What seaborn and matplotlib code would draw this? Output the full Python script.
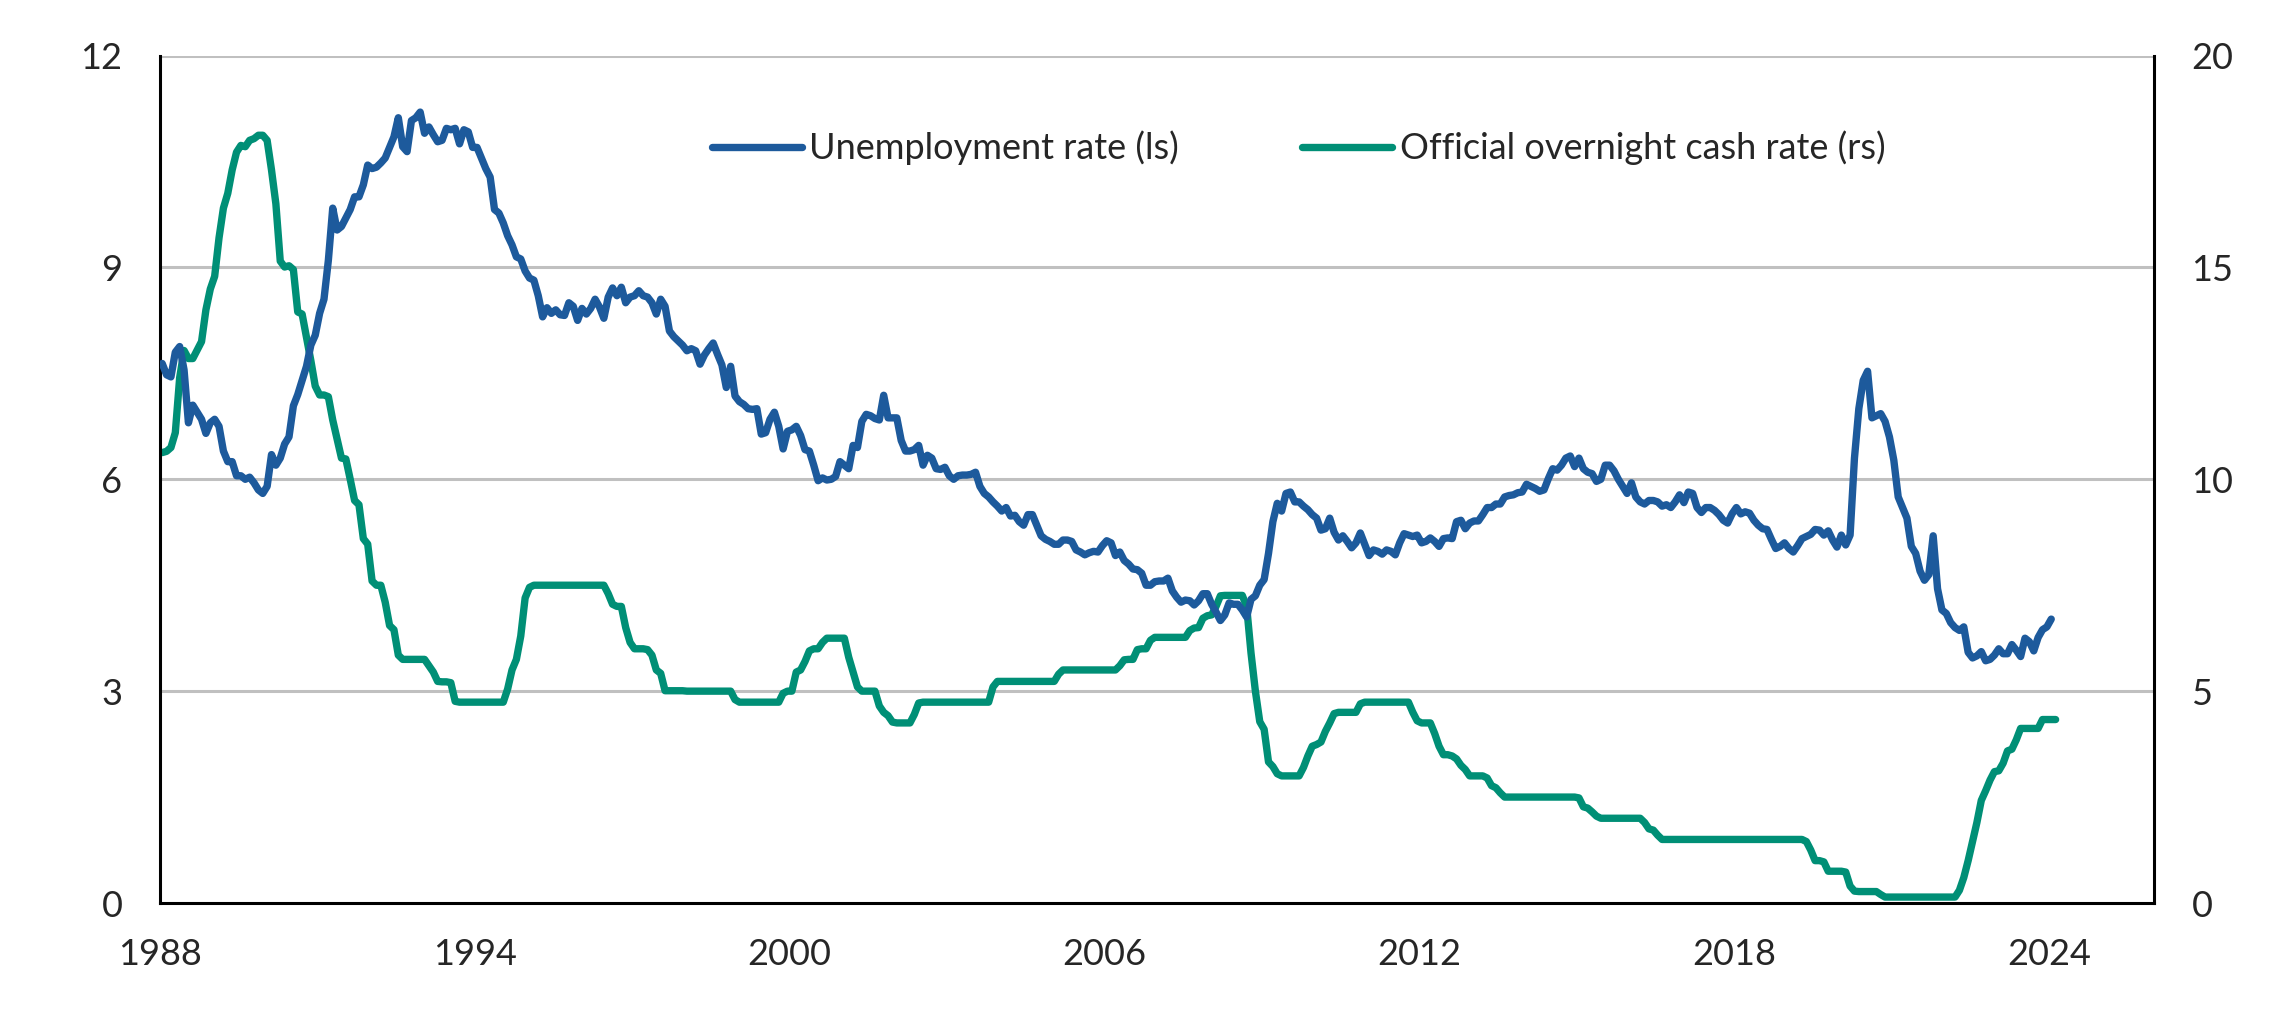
import numpy as np
import pandas as pd
import matplotlib.pyplot as plt
import seaborn as sns
from matplotlib.lines import Line2D
from matplotlib.ticker import FixedLocator

sns.set_style('white')
plt.rcParams['font.family'] = ['Lato', 'DejaVu Sans']

# Monthly values, Jan 1988 onwards
unemployment = [
    7.64, 7.48, 7.45, 7.8, 7.88, 7.55, 6.8, 7.05, 6.95, 6.85, 6.65, 6.8,          # 1988
    6.85, 6.75, 6.4, 6.25, 6.25, 6.05, 6.05, 6.0, 6.03, 5.95, 5.85, 5.8,          # 1989
    5.9, 6.35, 6.2, 6.3, 6.5, 6.6, 7.04, 7.2, 7.4, 7.6, 7.9, 8.04,                # 1990
    8.35, 8.55, 9.1, 9.84, 9.53, 9.58, 9.7, 9.82, 10.0, 10.0, 10.17, 10.45,       # 1991
    10.4, 10.42, 10.48, 10.55, 10.7, 10.85, 11.12, 10.71, 10.64, 11.08, 11.12, 11.2,  # 1992
    10.9, 10.99, 10.88, 10.78, 10.8, 10.97, 10.95, 10.97, 10.75, 10.95, 10.92, 10.7,  # 1993
    10.7, 10.55, 10.4, 10.28, 9.82, 9.77, 9.63, 9.45, 9.32, 9.15, 9.12, 8.95,     # 1994
    8.85, 8.82, 8.6, 8.3, 8.43, 8.35, 8.4, 8.33, 8.32, 8.5, 8.45, 8.25,           # 1995
    8.42, 8.34, 8.42, 8.55, 8.44, 8.28, 8.58, 8.71, 8.6, 8.72, 8.5, 8.58,         # 1996
    8.6, 8.67, 8.6, 8.58, 8.5, 8.34, 8.55, 8.45, 8.1, 8.02, 7.96, 7.9,            # 1997
    7.82, 7.85, 7.82, 7.63, 7.76, 7.85, 7.93, 7.77, 7.62, 7.3, 7.6, 7.18,         # 1998
    7.1, 7.06, 7.0, 6.99, 7.0, 6.64, 6.66, 6.85, 6.95, 6.75, 6.43, 6.68,          # 1999
    6.7, 6.75, 6.62, 6.42, 6.4, 6.2, 5.98, 6.02, 5.99, 6.0, 6.04, 6.25,           # 2000
    6.2, 6.15, 6.48, 6.45, 6.82, 6.92, 6.9, 6.86, 6.84, 7.19, 6.87, 6.87,         # 2001
    6.87, 6.55, 6.4, 6.4, 6.42, 6.48, 6.2, 6.34, 6.3, 6.15, 6.14, 6.17,           # 2002
    6.05, 6.0, 6.05, 6.06, 6.06, 6.07, 6.1, 5.9, 5.8, 5.75, 5.68, 5.62,           # 2003
    5.55, 5.6, 5.48, 5.49, 5.4, 5.35, 5.5, 5.5, 5.35, 5.2, 5.15, 5.12,            # 2004
    5.08, 5.08, 5.14, 5.14, 5.12, 5.0, 4.97, 4.93, 4.96, 4.98, 4.97, 5.06,        # 2005
    5.13, 5.1, 4.92, 4.97, 4.85, 4.8, 4.73, 4.72, 4.67, 4.5, 4.5, 4.55,           # 2006
    4.56, 4.56, 4.6, 4.42, 4.33, 4.26, 4.29, 4.28, 4.22, 4.28, 4.38, 4.38,        # 2007
    4.23, 4.12, 4.0, 4.08, 4.25, 4.23, 4.23, 4.15, 4.05, 4.3, 4.35, 4.5,          # 2008
    4.58, 4.95, 5.4, 5.66, 5.55, 5.8, 5.82, 5.68, 5.68, 5.62, 5.57, 5.5,          # 2009
    5.45, 5.28, 5.3, 5.45, 5.25, 5.14, 5.2, 5.12, 5.03, 5.1, 5.24, 5.08,          # 2010
    4.92, 5.0, 4.98, 4.94, 5.0, 4.98, 4.93, 5.1, 5.23, 5.21, 5.19, 5.21,          # 2011
    5.1, 5.12, 5.17, 5.12, 5.05, 5.16, 5.17, 5.16, 5.4, 5.42, 5.3, 5.38,          # 2012
    5.41, 5.41, 5.5, 5.6, 5.6, 5.65, 5.65, 5.75, 5.77, 5.78, 5.81, 5.82,          # 2013
    5.93, 5.9, 5.87, 5.83, 5.85, 6.01, 6.15, 6.13, 6.2, 6.3, 6.33, 6.18,          # 2014
    6.3, 6.15, 6.1, 6.08, 5.97, 6.0, 6.2, 6.2, 6.12, 6.0, 5.9, 5.8,               # 2015
    5.95, 5.75, 5.68, 5.65, 5.7, 5.7, 5.68, 5.62, 5.64, 5.6, 5.68, 5.78,          # 2016
    5.67, 5.82, 5.8, 5.6, 5.53, 5.6, 5.6, 5.56, 5.5, 5.42, 5.38, 5.51,            # 2017
    5.6, 5.51, 5.54, 5.52, 5.42, 5.35, 5.3, 5.29, 5.15, 5.02, 5.05, 5.1,          # 2018
    5.02, 4.97, 5.06, 5.16, 5.19, 5.22, 5.29, 5.28, 5.21, 5.27, 5.14, 5.04,       # 2019
    5.21, 5.07, 5.21, 6.3, 7.0, 7.4, 7.53, 6.87, 6.9, 6.93, 6.82, 6.6,            # 2020
    6.27, 5.75, 5.6, 5.45, 5.05, 4.95, 4.7, 4.57, 4.65, 5.2, 4.45, 4.15,          # 2021
    4.1, 3.97, 3.9, 3.86, 3.91, 3.55, 3.47, 3.5, 3.56, 3.43, 3.45, 3.51,          # 2022
    3.6, 3.53, 3.53, 3.66, 3.58, 3.49, 3.75, 3.7, 3.57, 3.76, 3.87, 3.91,         # 2023
    4.02,                                                                         # 2024
]

cash_rate = [
    10.63, 10.66, 10.75, 11.1, 12.4, 13.04, 12.85, 12.85, 13.05, 13.25, 14.0, 14.49,    # 1988
    14.79, 15.7, 16.4, 16.75, 17.3, 17.72, 17.88, 17.85, 18.0, 18.04, 18.12, 18.12,     # 1989
    18.0, 17.3, 16.5, 15.15, 15.01, 15.04, 14.95, 13.95, 13.9, 13.35, 12.8, 12.2,       # 1990
    11.99, 11.99, 11.95, 11.4, 10.95, 10.5, 10.48, 10.0, 9.5, 9.4, 8.6, 8.47,           # 1991
    7.6, 7.5, 7.5, 7.1, 6.55, 6.45, 5.85, 5.75, 5.75, 5.75, 5.75, 5.75,                 # 1992
    5.75, 5.6, 5.45, 5.23, 5.22, 5.22, 5.2, 4.76, 4.74, 4.74, 4.74, 4.74,               # 1993
    4.74, 4.74, 4.74, 4.74, 4.74, 4.74, 4.74, 5.05, 5.5, 5.75, 6.3, 7.2,                # 1994
    7.45, 7.5, 7.5, 7.5, 7.5, 7.5, 7.5, 7.5, 7.5, 7.5, 7.5, 7.5,                        # 1995
    7.5, 7.5, 7.5, 7.5, 7.5, 7.5, 7.3, 7.05, 7.0, 7.0, 6.5, 6.15,                       # 1996
    6.0, 6.0, 6.0, 5.98, 5.85, 5.5, 5.42, 5.01, 5.01, 5.01, 5.01, 5.01,                 # 1997
    5.0, 5.0, 5.0, 5.0, 5.0, 5.0, 5.0, 5.0, 5.0, 5.0, 5.0, 4.8,                         # 1998
    4.74, 4.74, 4.74, 4.74, 4.74, 4.74, 4.74, 4.74, 4.74, 4.74, 4.95, 5.0,              # 1999
    5.0, 5.45, 5.5, 5.7, 5.95, 6.0, 6.0, 6.15, 6.25, 6.25, 6.25, 6.25,                  # 2000
    6.25, 5.8, 5.45, 5.1, 5.0, 5.0, 5.0, 5.0, 4.65, 4.5, 4.42, 4.27,                    # 2001
    4.25, 4.25, 4.25, 4.25, 4.45, 4.72, 4.74, 4.74, 4.74, 4.74, 4.74, 4.74,             # 2002
    4.74, 4.74, 4.74, 4.74, 4.74, 4.74, 4.74, 4.74, 4.74, 4.74, 5.1, 5.23,              # 2003
    5.23, 5.23, 5.23, 5.23, 5.23, 5.23, 5.23, 5.23, 5.23, 5.23, 5.23, 5.23,             # 2004
    5.23, 5.4, 5.5, 5.5, 5.5, 5.5, 5.5, 5.5, 5.5, 5.5, 5.5, 5.5,                        # 2005
    5.5, 5.5, 5.5, 5.6, 5.74, 5.75, 5.75, 5.98, 6.0, 6.0, 6.2, 6.27,                    # 2006
    6.27, 6.27, 6.27, 6.27, 6.27, 6.27, 6.27, 6.43, 6.49, 6.5, 6.72, 6.78,              # 2007
    6.8, 7.0, 7.25, 7.26, 7.26, 7.26, 7.26, 7.26, 7.0, 5.9, 5.0, 4.28,                  # 2008
    4.1, 3.33, 3.22, 3.05, 3.0, 3.0, 3.0, 3.0, 3.0, 3.2, 3.47, 3.7,                     # 2009
    3.74, 3.8, 4.05, 4.25, 4.47, 4.5, 4.5, 4.5, 4.5, 4.5, 4.7, 4.74,                    # 2010
    4.74, 4.74, 4.74, 4.74, 4.74, 4.74, 4.74, 4.74, 4.74, 4.74, 4.5, 4.3,               # 2011
    4.25, 4.25, 4.25, 4.0, 3.7, 3.5, 3.5, 3.47, 3.4, 3.25, 3.15, 3.0,                   # 2012
    3.0, 3.0, 3.0, 2.95, 2.77, 2.72, 2.6, 2.5, 2.5, 2.5, 2.5, 2.5,                      # 2013
    2.5, 2.5, 2.5, 2.5, 2.5, 2.5, 2.5, 2.5, 2.5, 2.5, 2.5, 2.5,                         # 2014
    2.48, 2.27, 2.24, 2.15, 2.05, 2.0, 2.0, 2.0, 2.0, 2.0, 2.0, 2.0,                    # 2015
    2.0, 2.0, 2.0, 1.9, 1.75, 1.72, 1.6, 1.5, 1.5, 1.5, 1.5, 1.5,                       # 2016
    1.5, 1.5, 1.5, 1.5, 1.5, 1.5, 1.5, 1.5, 1.5, 1.5, 1.5, 1.5,                         # 2017
    1.5, 1.5, 1.5, 1.5, 1.5, 1.5, 1.5, 1.5, 1.5, 1.5, 1.5, 1.5,                         # 2018
    1.5, 1.5, 1.5, 1.5, 1.45, 1.25, 1.0, 1.0, 0.97, 0.75, 0.75, 0.75,                   # 2019
    0.75, 0.73, 0.4, 0.28, 0.27, 0.27, 0.27, 0.27, 0.27, 0.2, 0.14, 0.14,               # 2020
    0.14, 0.14, 0.14, 0.14, 0.14, 0.14, 0.14, 0.14, 0.14, 0.14, 0.14, 0.14,             # 2021
    0.14, 0.14, 0.14, 0.3, 0.6, 1.0, 1.45, 1.9, 2.42, 2.65, 2.9, 3.1,                   # 2022
    3.12, 3.3, 3.59, 3.63, 3.85, 4.12, 4.12, 4.12, 4.12, 4.12, 4.33, 4.33,              # 2023
    4.33, 4.33,                                                                         # 2024
]

left_ticks = [0, 3, 6, 9, 12]
right_ticks = [0, 5, 10, 15, 20]
major_years = list(range(1988, 2025, 6))
minor_years = list(range(1988, 2026))

blue = '#1d5a9c'
green = '#008f76'
lw = 5.3


def decimal_year(dates):
    return dates.year + (dates.month - 0.5) / 12


u_dates = pd.date_range('1988-01-01', periods=len(unemployment), freq='MS')
c_dates = pd.date_range('1988-01-01', periods=len(cash_rate), freq='MS')
df_u = pd.DataFrame({'year': decimal_year(u_dates), 'rate': unemployment})
df_c = pd.DataFrame({'year': decimal_year(c_dates), 'rate': cash_rate})

fig, ax = plt.subplots(figsize=(22.96, 10.13), dpi=100)
fig.subplots_adjust(left=160 / 2296, right=2154 / 2296, bottom=1 - 903 / 1013, top=1 - 55.6 / 1013)
ax2 = ax.twinx()

# blue line drawn above green, so left axes goes on top
ax.set_zorder(ax2.get_zorder() + 1)
ax.patch.set_visible(False)

sns.lineplot(data=df_c, x='year', y='rate', ax=ax2, color=green, linewidth=lw,
             estimator=None, solid_capstyle='round', zorder=3)
sns.lineplot(data=df_u, x='year', y='rate', ax=ax, color=blue, linewidth=lw,
             estimator=None, solid_capstyle='round', zorder=3)

ax.set_xlim(1988, 2026)
ax.set_ylim(0, 12)
ax2.set_ylim(0, 20)

# gridlines on the lower axes so both lines sit above them
for v in right_ticks[1:]:
    ax2.axhline(v, color='#c0c0c0', linewidth=2.2, zorder=0)

ax.set_yticks(left_ticks)
ax2.set_yticks(right_ticks)
ax.xaxis.set_major_locator(FixedLocator(major_years))
ax.xaxis.set_minor_locator(FixedLocator(minor_years))
ax.set_xticklabels([str(y) for y in major_years])

ax.tick_params(axis='x', which='major', direction='in', length=8, width=2.2,
               labelsize=26, pad=25, color='black')
ax.tick_params(axis='x', which='minor', direction='in', length=5.5, width=2.2, color='black')
ax.tick_params(axis='y', length=0, labelsize=26, pad=27)
ax2.tick_params(axis='y', length=0, labelsize=26, pad=27)

ax.set_xlabel('')
ax.set_ylabel('')
ax2.set_xlabel('')
ax2.set_ylabel('')

for a in (ax, ax2):
    for s in a.spines.values():
        s.set_linewidth(2.2)
        s.set_color('black')
    a.spines['top'].set_visible(False)
ax.spines['right'].set_visible(False)
ax2.spines['left'].set_visible(False)
ax2.spines['bottom'].set_visible(False)

handles = [
    Line2D([], [], color=blue, linewidth=lw, solid_capstyle='round'),
    Line2D([], [], color=green, linewidth=lw, solid_capstyle='round'),
]
labels = ['Unemployment rate (ls)', 'Official overnight cash rate (rs)']
ax.legend(handles, labels, loc='center', bbox_to_anchor=(0.571, 0.891), ncol=2,
          frameon=False, fontsize=26, handlelength=2.5, handletextpad=0.2,
          columnspacing=3.4)

fig.savefig('out.png', dpi=100)
